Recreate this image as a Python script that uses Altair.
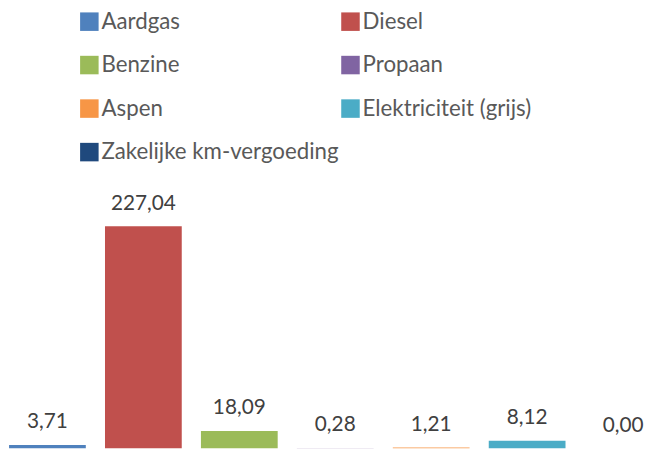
import altair as alt
import pandas as pd

categories = ["Aardgas", "Diesel", "Benzine", "Propaan", "Aspen",
              "Elektriciteit (grijs)", "Zakelijke km-vergoeding"]
values = [3.71, 227.04, 18.09, 0.28, 1.21, 8.12, 0.00]
colors = ["#4F81BD", "#C0504D", "#9BBB59", "#8064A2", "#F79646", "#4BACC6", "#1F497D"]

df = pd.DataFrame({"cat": categories, "v": values, "i": list(range(len(categories)))})
df["label"] = [f"{v:.2f}".replace(".", ",") for v in values]

FONT = "Lato"
xscale = alt.Scale(domain=[-0.411, 6.146], nice=False, zero=False)
yscale = alt.Scale(domain=[0, 444.6], nice=False)

bars = alt.Chart(df).transform_calculate(
    x0="datum.i - 0.4", x1="datum.i + 0.4"
).mark_bar(clip=True).encode(
    x=alt.X("x0:Q", scale=xscale, axis=None),
    x2="x1:Q",
    y=alt.Y("v:Q", scale=yscale, axis=None),
    y2=alt.datum(0),
    color=alt.Color("cat:N", sort=categories,
                    scale=alt.Scale(domain=categories, range=colors),
                    legend=alt.Legend(orient="none", legendX=71, legendY=-3, columns=2,
                                      direction="horizontal",
                                      symbolType="square", symbolSize=350,
                                      symbolStrokeWidth=0, symbolOpacity=1,
                                      labelFontSize=22.5, labelFont=FONT,
                                      labelColor="#595959", rowPadding=21,
                                      columnPadding=0, labelOffset=1, padding=0,
                                      title=None, labelLimit=400))
)

text = alt.Chart(df).mark_text(baseline="alphabetic", dy=-17, fontSize=21,
                               font=FONT, color="#404040").encode(
    x=alt.X("i:Q", scale=xscale, axis=None),
    y=alt.Y("v:Q", scale=yscale, axis=None),
    text="label:N")

chart = (bars + text).properties(width=636, height=440, padding=0).configure_view(
    stroke=None
)

chart.save("out.html", embed_options={"renderer": "svg", "actions": False})
